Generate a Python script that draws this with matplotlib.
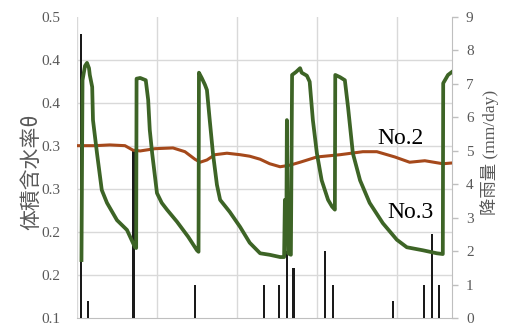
import numpy as np
import matplotlib
matplotlib.use("Agg")
import matplotlib.pyplot as plt

# --- data (x in days) ---
rain_day = [0.5, 1.4, 7.1, 14.75, 23.4, 25.25, 26.25, 27.1, 31.0, 32.0, 39.5, 43.4, 44.4, 45.25]
rain_mm = [8.5, 0.5, 5.0, 1.0, 1.0, 1.0, 2.0, 1.5, 2.0, 1.0, 0.5, 1.0, 2.5, 1.0]

no2_day = [0.1, 2.25, 4.1, 6.0, 7.0, 7.9, 9.75, 12.0, 13.5, 14.75, 15.4, 16.25, 17.25, 18.75,
           20.4, 21.6, 22.9, 24.1, 25.4, 26.6, 27.9, 30.0, 32.9, 35.75, 37.5, 39.75, 41.6,
           43.5, 45.75, 46.9]
no2_theta = [0.329, 0.329, 0.330, 0.329, 0.323, 0.322, 0.325, 0.326, 0.321, 0.311, 0.307,
             0.310, 0.317, 0.319, 0.317, 0.315, 0.311, 0.305, 0.301, 0.303, 0.307, 0.314,
             0.317, 0.321, 0.321, 0.314, 0.307, 0.309, 0.305, 0.306]

no3_day = [0.56, 0.69, 1.0, 1.25, 1.5, 1.6, 1.9, 2.0, 2.5, 3.1, 3.75, 5.0, 6.25, 7.25, 7.4,
           7.45, 7.9, 8.6, 8.9, 9.1, 9.4, 10.0, 10.6, 11.25, 12.5, 13.9, 15.0, 15.2,
           15.25, 15.6, 16.0, 16.25, 16.6, 17.0, 17.5, 17.9, 19.1, 20.4, 21.6, 22.9, 24.1,
           25.4, 25.9, 26.0, 26.2, 26.25, 26.4, 26.75, 26.9, 27.4, 27.9, 28.1, 28.75, 29.1,
           29.5, 30.0, 30.6, 31.4, 31.9, 32.25, 32.3, 32.9, 33.5, 33.9, 34.5, 35.4, 36.6,
           38.25, 40.0, 41.25, 43.25, 45.0, 45.75, 45.8, 46.4, 46.9]
no3_theta = [0.177, 0.416, 0.435, 0.439, 0.432, 0.423, 0.407, 0.363, 0.319, 0.270, 0.253,
             0.230, 0.217, 0.194, 0.193, 0.418, 0.419, 0.416, 0.390, 0.350, 0.319, 0.266,
             0.253, 0.244, 0.228, 0.208, 0.190, 0.188, 0.426, 0.419, 0.410, 0.403, 0.363,
             0.319, 0.277, 0.257, 0.241, 0.221, 0.200, 0.186, 0.184, 0.181, 0.181, 0.257,
             0.257, 0.363, 0.186, 0.184, 0.423, 0.427, 0.432, 0.426, 0.422, 0.414, 0.363,
             0.319, 0.283, 0.257, 0.248, 0.244, 0.423, 0.420, 0.416, 0.380, 0.319, 0.283,
             0.253, 0.226, 0.204, 0.194, 0.190, 0.186, 0.185, 0.412, 0.423, 0.427]

theta_ticks = list(np.linspace(0.1, 0.5, 8))
theta_labels = ["0.1", "0.2", "0.2", "0.3", "0.3", "0.4", "0.4", "0.5"]
rain_ticks = list(range(0, 10))
x_grid = [0, 10, 20, 30, 40]

GREEN = "#3D6426"
BROWN = "#A5491B"
GRID = "#D9D9D9"
AXC = "#BFBFBF"
TXT = "#595959"
SERIF = ["Liberation Serif", "Noto Sans CJK JP"]

fig = plt.figure(figsize=(5.05, 3.26), dpi=100)
ax_r = fig.add_axes([77 / 505, 8 / 326, 375 / 505, 301 / 326])
ax_r.set_xlim(0, 46.9)
ax_r.set_ylim(0, 9)

# rain bars on host (bottom layer)
ax_r.bar(rain_day, rain_mm, width=0.32, color="#1A1A1A", zorder=3)

# grid lines
ax_r.set_xticks(x_grid)
ax_r.set_xticklabels([])
ax_r.tick_params(axis="x", length=0)
ax_r.grid(axis="x", color=GRID, lw=1.0, zorder=0)
ax_r.set_yticks(np.linspace(0, 9, 8), minor=True)
ax_r.grid(axis="y", which="minor", color=GRID, lw=1.0, zorder=0)
ax_r.grid(axis="y", which="major", visible=False)
ax_r.set_axisbelow(True)

for s in ["top", "left"]:
    ax_r.spines[s].set_visible(False)
ax_r.spines["bottom"].set_color(AXC)
ax_r.spines["right"].set_color(AXC)

# theta axis
ax_t = ax_r.twinx()
ax_t.set_ylim(0.1, 0.5)
ax_t.set_xlim(0, 46.9)
ax_t.yaxis.tick_left()
ax_t.yaxis.set_label_position("left")
ax_t.set_yticks(theta_ticks)
ax_t.set_yticklabels(theta_labels)
ax_t.tick_params(axis="y", length=0, pad=12, labelsize=11, labelcolor=TXT)
for lab in ax_t.get_yticklabels():
    lab.set_fontfamily(SERIF)
for s in ax_t.spines.values():
    s.set_visible(False)
ax_t.patch.set_visible(False)

# rain axis ticks on right (after twinx)
ax_r.yaxis.tick_right()
ax_r.set_yticks(rain_ticks)
ax_r.tick_params(axis="y", which="major", left=False, labelleft=False, right=True,
                 labelright=True, length=4, width=1, color=AXC, pad=6,
                 labelsize=11, labelcolor=TXT)
ax_r.tick_params(axis="y", which="minor", left=False, right=False, length=0)
for lab in ax_r.get_yticklabels():
    lab.set_fontfamily(SERIF)

ax_t.plot(no2_day, no2_theta, color=BROWN, lw=2.2, solid_joinstyle="round", zorder=3)
ax_t.plot(no3_day, no3_theta, color=GREEN, lw=2.7, solid_joinstyle="round", zorder=4)

ax_t.text(40.4, 0.339, "No.2", ha="center", va="center", fontsize=17,
          family=SERIF, color="black")
ax_t.text(41.75, 0.240, "No.3", ha="center", va="center", fontsize=17,
          family=SERIF, color="black")

fig.text(31 / 505, 1 - 172 / 326, "体積含水率θ", rotation=90, ha="center", va="center",
         fontsize=15, color=TXT, family=["Noto Sans CJK JP", "DejaVu Serif"])
fig.text(490 / 505, 1 - 152 / 326, "降雨量 (mm/day)", rotation=90, ha="center",
         va="center", fontsize=12.5, color=TXT, family=SERIF)

fig.savefig("out.png", dpi=100)
